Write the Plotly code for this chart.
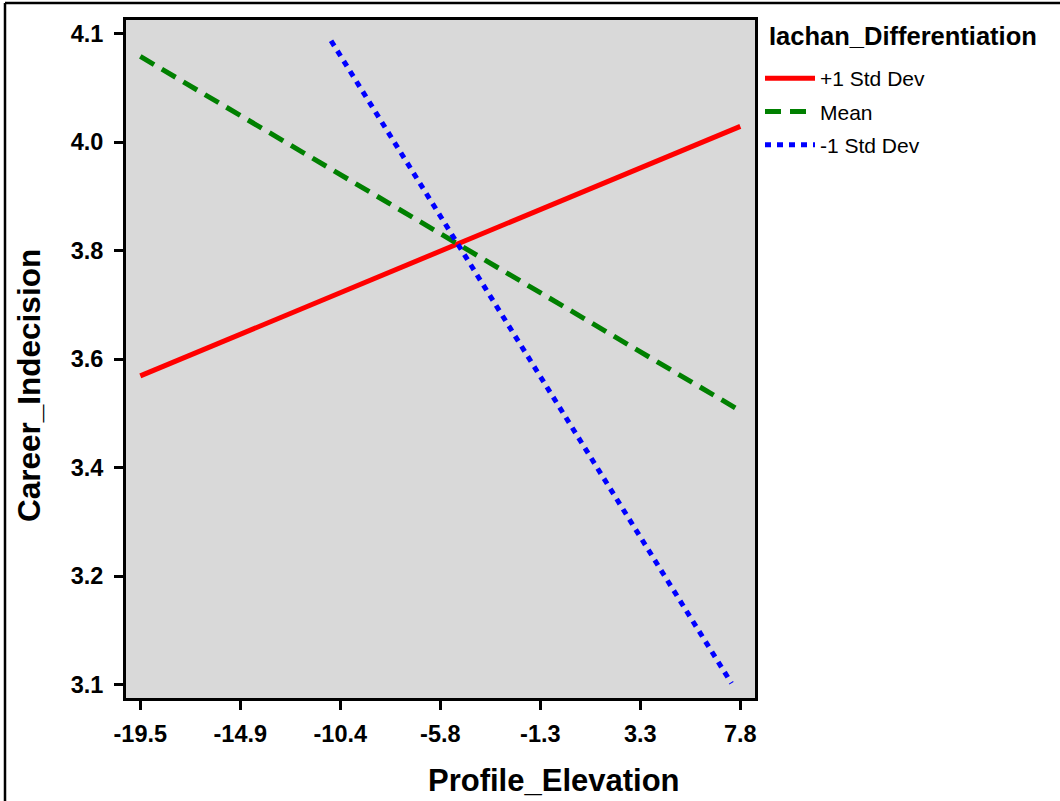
import numpy as np
import plotly.graph_objects as go

# ---- data ----
series_names = ["+1 Std Dev", "Mean", "-1 Std Dev"]
plus1_x = [-19.5, 7.8]
plus1_y = [3.572, 3.986]
mean_x = [-19.5, 7.8]
mean_y = [4.102, 3.514]
minus1_x = [-10.82, 7.40]
minus1_y = [4.128, 3.062]

x_tick_labels = ["-19.5", "-14.9", "-10.4", "-5.8", "-1.3", "3.3", "7.8"]
y_tick_labels = ["3.1", "3.2", "3.4", "3.6", "3.8", "4.0", "4.1"]
y_axis_lo, y_axis_hi = 3.06, 4.14

x_title = "Profile_Elevation"
y_title = "Career_Indecision"
legend_title = "Iachan_Differentiation"

colors = ["#ff0000", "#008000", "#0000ff"]
dashes = ["solid", "16px,9px", "6px,6px"]

# ---- figure geometry ----
W, H = 1060, 801
ML, MR, MT, MB = 126, 305, 20, 103
PW, PH = W - ML - MR, H - MT - MB

def px(xp):
    return (xp - ML) / PW

def py(yp):
    return (H - MB - yp) / PH

x_min, x_max = min(plus1_x), max(plus1_x)
x_ticks = np.linspace(x_min, x_max, len(x_tick_labels))
y_ticks = np.linspace(y_axis_lo, y_axis_hi, len(y_tick_labels))

x_per_px = (x_max - x_min) / 600.0
y_per_px = (y_axis_hi - y_axis_lo) / 651.0
x_range = [x_min - 14.3 * x_per_px, x_max + 14.7 * x_per_px]
y_range = [y_axis_lo - 13.5 * y_per_px, y_axis_hi + 13.5 * y_per_px]

fig = go.Figure()
for name, xs, ys, c, d in zip(series_names,
                              [plus1_x, mean_x, minus1_x],
                              [plus1_y, mean_y, minus1_y],
                              colors, dashes):
    fig.add_trace(go.Scatter(x=xs, y=ys, mode="lines", name=name,
                             legendgroup=name,
                             line=dict(color=c, width=5, dash=d)))

font_family = "Liberation Sans, Arial, sans-serif"
axis_common = dict(showline=True, linewidth=3, linecolor="black", mirror=True,
                   ticks="outside", ticklen=9, tickwidth=3, tickcolor="black",
                   showgrid=False, zeroline=False,
                   tickfont=dict(family=font_family, size=23.5, color="black", weight="bold"))

fig.update_layout(
    width=W, height=H, autosize=False,
    margin=dict(l=ML, r=MR, t=MT, b=MB),
    paper_bgcolor="white", plot_bgcolor="#d9d9d9",
    font=dict(family=font_family, color="black"),
    xaxis=dict(range=x_range, tickvals=x_ticks, ticktext=x_tick_labels,
               ticklabelstandoff=4, **axis_common),
    yaxis=dict(range=y_range, tickvals=y_ticks, ticktext=y_tick_labels,
               ticklabelstandoff=6, **axis_common),
    legend=dict(font=dict(family=font_family, size=21, color="black"),
                x=px(760), y=py(58), xanchor="left", yanchor="top",
                bgcolor="rgba(0,0,0,0)", borderwidth=0,
                itemwidth=50, tracegroupgap=3),
    showlegend=True,
)

# legend heading
fig.add_annotation(text=legend_title, xref="paper", yref="paper",
                   x=px(767), y=py(36), xanchor="left", yanchor="middle",
                   showarrow=False,
                   font=dict(family=font_family, size=25.5, color="black", weight="bold"))

fig.add_annotation(text=x_title, xref="paper", yref="paper",
                   x=px(554), y=py(780), xanchor="center", yanchor="middle",
                   showarrow=False,
                   font=dict(family=font_family, size=31, color="black", weight="bold"))
fig.add_annotation(text=y_title, xref="paper", yref="paper",
                   x=px(29), y=py(386), xanchor="center", yanchor="middle",
                   textangle=-90, showarrow=False,
                   font=dict(family=font_family, size=31.5, color="black", weight="bold"))

# outer frame (top and left edges only, as in the reference)
fig.add_shape(type="line", xref="paper", yref="paper",
              x0=px(5), y0=py(3), x1=px(1062), y1=py(3),
              line=dict(color="black", width=2.5))
fig.add_shape(type="line", xref="paper", yref="paper",
              x0=px(5), y0=py(3), x1=px(5), y1=py(803),
              line=dict(color="black", width=2.5))

fig.write_html("out.html",
               config={"displayModeBar": False},
               post_script="document.body.style.margin='0px';document.body.style.overflow='hidden';")
